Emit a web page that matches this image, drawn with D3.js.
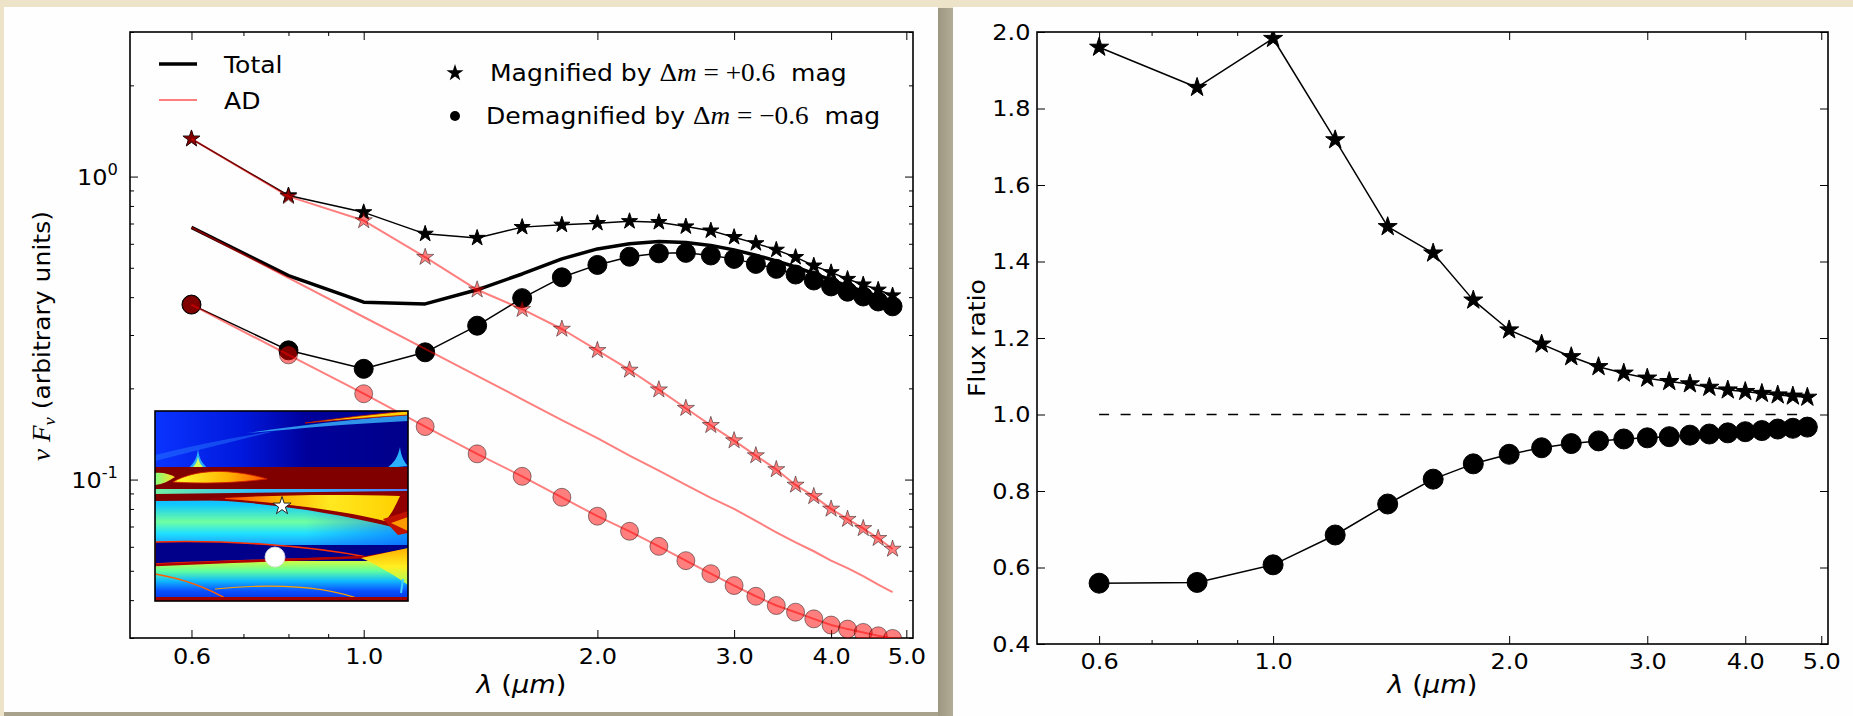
<!DOCTYPE html>
<html>
<head>
<meta charset="utf-8">
<script src="https://cdn.jsdelivr.net/npm/d3@7"></script>
<style>
  html, body { margin: 0; padding: 0; background: #ece2c6; }
  svg { display: block; }
  text { font-family: "DejaVu Sans", sans-serif; fill: #000; }
</style>
</head>
<body>
<svg id="chart" width="1853" height="716"></svg>
<script>
// Wavelengths (micron) where the spectra were sampled
const lambda = [0.6, 0.8, 1.0, 1.2, 1.4, 1.6, 1.8, 2.0, 2.2, 2.4, 2.6, 2.8, 3.0, 3.2, 3.4, 3.6, 3.8, 4.0, 4.2, 4.4, 4.6, 4.8];

// Left panel: nu F_nu (arbitrary units)
const totalFlux = [0.680, 0.471, 0.385, 0.380, 0.423, 0.477, 0.535, 0.577, 0.600, 0.610, 0.606, 0.592, 0.573, 0.550, 0.527, 0.503, 0.478, 0.456, 0.436, 0.418, 0.402, 0.387];
const adFlux = [0.680, 0.463, 0.344, 0.270, 0.220, 0.184, 0.157, 0.137, 0.120, 0.107, 0.096, 0.087, 0.080, 0.073, 0.067, 0.062, 0.058, 0.054, 0.051, 0.048, 0.045, 0.0425];
const totalMagnified = [1.332, 0.866, 0.762, 0.647, 0.627, 0.681, 0.693, 0.702, 0.712, 0.707, 0.684, 0.663, 0.631, 0.602, 0.573, 0.542, 0.508, 0.483, 0.459, 0.440, 0.423, 0.405];
const totalDemagnified = [0.378, 0.267, 0.232, 0.263, 0.322, 0.397, 0.465, 0.511, 0.544, 0.558, 0.560, 0.549, 0.535, 0.515, 0.496, 0.475, 0.454, 0.434, 0.417, 0.402, 0.387, 0.373];
const adMagnified = [1.332, 0.860, 0.716, 0.542, 0.423, 0.365, 0.314, 0.267, 0.230, 0.198, 0.172, 0.151, 0.1345, 0.120, 0.108, 0.096, 0.088, 0.080, 0.074, 0.069, 0.064, 0.059];
const adDemagnified = [0.378, 0.258, 0.192, 0.1496, 0.1216, 0.1025, 0.0874, 0.0757, 0.0675, 0.0602, 0.0540, 0.0489, 0.0447, 0.0412, 0.0384, 0.0365, 0.0347, 0.0331, 0.0321, 0.0313, 0.0305, 0.0299];

// Right panel: flux ratios
const ratioMagnified = [1.960, 1.855, 1.983, 1.718, 1.491, 1.422, 1.299, 1.221, 1.184, 1.151, 1.125, 1.108, 1.095, 1.086, 1.080, 1.071, 1.064, 1.060, 1.055, 1.051, 1.048, 1.045];
const ratioDemagnified = [0.559, 0.561, 0.607, 0.685, 0.766, 0.831, 0.871, 0.896, 0.913, 0.924, 0.931, 0.936, 0.939, 0.942, 0.946, 0.949, 0.952, 0.955, 0.958, 0.962, 0.964, 0.967];
const unityLevel = 1.0;

// Ticks
const xMajorTicks = [0.6, 1, 2, 3, 4, 5];
const xMinorTicks = [0.7, 0.8, 0.9];
const fluxMajorTicks = [0.1, 1];
const fluxMinorTicks = [0.03, 0.04, 0.05, 0.06, 0.07, 0.08, 0.09, 0.2, 0.3, 0.4, 0.5, 0.6, 0.7, 0.8, 0.9, 2, 3];
const ratioTicks = [0.4, 0.6, 0.8, 1.0, 1.2, 1.4, 1.6, 1.8, 2.0];

const svg = d3.select("#chart");
const defs = svg.append("defs");

const RED = "rgba(255,0,0,0.5)";
const RED_EDGE = "rgba(0,0,0,0.45)";
const SERIF = "'Liberation Serif', 'DejaVu Serif', serif";
const STRETCH = 1.09;   // the reference text is a little wider than it is tall

// star of outer radius r, d3 symbolStar uses r = sqrt(size * ka)
const starPath = r => d3.symbol().type(d3.symbolStar).size(r * r / 0.8908130915292852)();

// text placed at (x, y), widened a bit along its own direction
function label(x, y, size, rotate = 0) {
    return svg.append("text")
        .attr("transform", `translate(${x},${y}) rotate(${rotate}) scale(${STRETCH},1)`)
        .attr("font-size", size).attr("xml:space", "preserve");
}

// ---------- page background and cards ----------
const shade = defs.append("linearGradient").attr("id", "gap").attr("x1", 0).attr("x2", 1);
shade.append("stop").attr("offset", 0).attr("stop-color", "#9a947f");
shade.append("stop").attr("offset", 1).attr("stop-color", "#b4ad98");
svg.append("rect").attr("width", 1853).attr("height", 716).attr("fill", "#ede3c8");
svg.append("rect").attr("x", 936).attr("y", 8).attr("width", 18).attr("height", 708).attr("fill", "url(#gap)");
svg.append("rect").attr("x", 4).attr("y", 710).attr("width", 934).attr("height", 6).attr("fill", "#a8a18c");
svg.append("rect").attr("x", 4).attr("y", 7).attr("width", 934).attr("height", 705).attr("fill", "#fefefe");
svg.append("rect").attr("x", 953).attr("y", 7).attr("width", 900).attr("height", 709).attr("fill", "#fefefe");

// ---------- scales ----------
const left = { x0: 130, x1: 913, y0: 32, y1: 638 };
const right = { x0: 1037, x1: 1828, y0: 32, y1: 644 };

const xL = d3.scaleLog().domain([0.5, 5.1]).range([left.x0, left.x1]);
const yL = d3.scaleLog().domain([0.03, 3]).range([left.y1, left.y0]);
const xR = d3.scaleLog().domain([0.5, 5.1]).range([right.x0, right.x1]);
const yR = d3.scaleLinear().domain([0.4, 2.0]).range([right.y1, right.y0]);

function clipFor(id, box) {
    defs.append("clipPath").attr("id", id).append("rect")
        .attr("x", box.x0).attr("y", box.y0)
        .attr("width", box.x1 - box.x0).attr("height", box.y1 - box.y0);
    return `url(#${id})`;
}

// Inward pointing ticks on all four sides
function drawTicks(box, x, y, xMinor, yMajor, yMinor, labelX, labelY) {
    const g = svg.append("g");
    const styleAxis = a => {
        a.select(".domain").remove();
        a.selectAll("line").attr("stroke", "#000").attr("stroke-width", 1);
        a.attr("font-family", null).attr("font-size", null);
    };
    const fmt = d3.format(".1f");

    g.append("g").attr("transform", `translate(0,${box.y1})`)
        .call(d3.axisBottom(x).tickValues(xMajorTicks).tickSize(-8).tickPadding(labelX).tickFormat(fmt))
        .call(styleAxis);
    g.append("g").attr("transform", `translate(0,${box.y1})`)
        .call(d3.axisBottom(x).tickValues(xMinor).tickSize(-4).tickFormat(""))
        .call(styleAxis);
    g.append("g").attr("transform", `translate(0,${box.y0})`)
        .call(d3.axisTop(x).tickValues(xMajorTicks).tickSize(-8).tickFormat(""))
        .call(styleAxis);
    g.append("g").attr("transform", `translate(0,${box.y0})`)
        .call(d3.axisTop(x).tickValues(xMinor).tickSize(-4).tickFormat(""))
        .call(styleAxis);

    g.append("g").attr("transform", `translate(${box.x0},0)`)
        .call(d3.axisLeft(y).tickValues(yMajor).tickSize(-8).tickPadding(labelY).tickFormat(labelY ? fmt : ""))
        .call(styleAxis);
    g.append("g").attr("transform", `translate(${box.x1},0)`)
        .call(d3.axisRight(y).tickValues(yMajor).tickSize(-8).tickFormat(""))
        .call(styleAxis);
    if (yMinor.length) {
        g.append("g").attr("transform", `translate(${box.x0},0)`)
            .call(d3.axisLeft(y).tickValues(yMinor).tickSize(-4).tickFormat(""))
            .call(styleAxis);
        g.append("g").attr("transform", `translate(${box.x1},0)`)
            .call(d3.axisRight(y).tickValues(yMinor).tickSize(-4).tickFormat(""))
            .call(styleAxis);
    }
    g.selectAll("text").attr("font-size", 22).attr("fill", "#000")
        .attr("transform", `scale(${STRETCH},1)`);

    svg.append("rect").attr("x", box.x0).attr("y", box.y0)
        .attr("width", box.x1 - box.x0).attr("height", box.y1 - box.y0)
        .attr("fill", "none").attr("stroke", "#000").attr("stroke-width", 1.6);
    return g;
}

// ---------- inset magnification map (picture) ----------
function gradient(id, stops, vertical) {
    const lg = defs.append("linearGradient").attr("id", id)
        .attr("x1", 0).attr("y1", 0).attr("x2", vertical ? 0 : 1).attr("y2", vertical ? 1 : 0);
    stops.forEach(([o, c]) => lg.append("stop").attr("offset", o).attr("stop-color", c));
    return `url(#${id})`;
}

function drawInset() {
    const W = 253, H = 190;
    defs.append("clipPath").attr("id", "insetClip").append("rect").attr("width", W).attr("height", H);
    const g = svg.append("g").attr("transform", "translate(155,411)");
    const c = g.append("g").attr("clip-path", "url(#insetClip)");

    c.append("rect").attr("width", W).attr("height", H).attr("fill", "#000088");
    c.append("rect").attr("width", W).attr("height", 58)
        .attr("fill", gradient("gTop", [[0, "#0a34ff"], [0.35, "#0018dc"], [0.6, "#00009a"], [1, "#00008a"]]));
    // soft glow streak and yellow caustic at the top
    c.append("path").attr("d", "M0,44 C40,34 80,26 120,20 C80,30 40,40 0,50Z").attr("fill", "#2a80ff").attr("opacity", 0.45);
    c.append("path").attr("d", "M92,22 C140,15 190,9 253,4 L253,10 C190,13 140,18 92,22Z").attr("fill", "#3ab8ff").attr("opacity", 0.8);
    c.append("path").attr("d", "M150,12 C185,7 220,3 253,0 L253,4 C220,6 185,9 150,12Z").attr("fill", "#ffd000").attr("stroke", "#c01000").attr("stroke-width", 0.8);
    // cusps
    c.append("path").attr("d", "M43,38 C44,48 48,54 54,58 L32,58 C38,54 42,48 43,38Z").attr("fill", "#2ab0ff");
    c.append("path").attr("d", "M43,46 C44,51 46,54 48,56 L38,56 C40,54 42,51 43,46Z").attr("fill", "#d0ff60");
    c.append("path").attr("d", "M245,36 C246,46 250,52 253,55 L232,57 C239,52 243,46 245,36Z").attr("fill", "#2ab0ff");

    // region below the red bands
    c.append("rect").attr("y", 76).attr("width", W).attr("height", 58)
        .attr("fill", gradient("gMid", [[0, "#2a9cff"], [0.3, "#10c8ff"], [0.6, "#70ffa0"], [0.8, "#20e0ff"], [1, "#1aa0ff"]], true));
    c.append("rect").attr("x", 150).attr("y", 96).attr("width", 103).attr("height", 38)
        .attr("fill", gradient("gMidR", [[0, "rgba(0,80,255,0)"], [1, "rgba(0,80,255,0.55)"]]));
    c.append("rect").attr("y", 150).attr("width", W).attr("height", 40)
        .attr("fill", gradient("gLow", [[0, "#d0ff40"], [0.25, "#60ffa0"], [0.5, "#10b8ff"], [0.75, "#0a50ff"], [1, "#0030e0"]], true));

    // dark red main band with yellow lens
    c.append("rect").attr("y", 56).attr("width", W).attr("height", 22).attr("fill", "#800000");
    c.append("path").attr("d", "M0,62 C8,61 14,63 20,66 C14,70 8,73 0,74Z").attr("fill", gradient("gLeft", [[0, "#80ff80"], [1, "#ffe020"]]));
    c.append("path").attr("d", "M18,71 C40,58 75,57 112,68 C80,72 50,73 18,71Z")
        .attr("fill", gradient("gLens", [[0, "#ffff30"], [0.6, "#ffb000"], [1, "#ff5000"]])).attr("stroke", "#d02000").attr("stroke-width", 0.8);
    c.append("rect").attr("y", 78).attr("width", W).attr("height", 6).attr("fill", gradient("gThin", [[0, "#70f0a0"], [0.4, "#30c0ff"], [1, "#5080ff"]]));
    // narrow dark band and widening yellow wedge
    c.append("path").attr("d", "M0,83 L253,80 L253,88 L0,90Z").attr("fill", "#800000");
    c.append("path").attr("d", "M55,87 C110,83 180,81 253,82 L253,120 C200,106 130,93 55,89Z").attr("fill", "#900000");
    c.append("path").attr("d", "M70,87 C120,84 180,83 245,85 C240,96 236,104 230,110 C190,100 130,92 70,88Z")
        .attr("fill", gradient("gWedge", [[0, "#ff4000"], [0.3, "#ffb000"], [0.6, "#ffe820"], [1, "#ffd000"]]));
    c.append("path").attr("d", "M228,108 L253,100 L253,122 L243,124Z").attr("fill", "#c01000");
    c.append("path").attr("d", "M236,112 L253,106 L253,120Z").attr("fill", "#ff9a00");

    // navy lens with red edges
    c.append("path").attr("d", "M0,131 C70,129 150,134 212,146 C150,148 70,150 0,153Z")
        .attr("fill", "#00008a").attr("stroke", "#ff3000").attr("stroke-width", 1.6);
    c.append("path").attr("d", "M0,154 C70,151 150,148 212,146 L253,139").attr("fill", "none").attr("stroke", "#b00000").attr("stroke-width", 2.5);
    c.append("path").attr("d", "M206,147 L253,137 L253,174 C240,165 225,155 206,147Z")
        .attr("fill", gradient("gRight", [[0, "#ffb000"], [0.5, "#ffee20"], [1, "#a0ff60"]], true));
    // faint caustic lines at the bottom
    c.append("path").attr("d", "M0,163 C30,168 55,178 75,190").attr("fill", "none").attr("stroke", "#ff6000").attr("stroke-width", 1.5);
    c.append("path").attr("d", "M60,178 C120,172 170,174 210,190").attr("fill", "none").attr("stroke", "#ffa000").attr("stroke-width", 1.2);
    c.append("path").attr("d", "M248,168 L246,182").attr("fill", "none").attr("stroke", "#40d0ff").attr("stroke-width", 2);
    c.append("rect").attr("y", 186).attr("width", W).attr("height", 4).attr("fill", "#a00000");

    // image positions
    g.append("path").attr("d", starPath(9.5)).attr("transform", "translate(127,95)")
        .attr("fill", "#fff").attr("stroke", "#222").attr("stroke-width", 1);
    g.append("circle").attr("cx", 120).attr("cy", 146).attr("r", 10).attr("fill", "#fff").attr("stroke", "#ddd").attr("stroke-width", 0.8);

    g.append("rect").attr("width", W).attr("height", H).attr("fill", "none").attr("stroke", "#000").attr("stroke-width", 1.6);
}

// ---------- left panel ----------
drawTicks(left, xL, yL, xMinorTicks, fluxMajorTicks, fluxMinorTicks, 10, 0);

// 10^0 and 10^-1 labels
fluxMajorTicks.forEach(v => {
    const t = svg.append("text").attr("transform", `translate(${left.x0 - 12},${yL(v) + 8}) scale(${STRETCH},1)`)
        .attr("text-anchor", "end").attr("font-size", 22);
    t.append("tspan").text("10");
    t.append("tspan").attr("dy", -10).attr("font-size", 15).text(Math.round(Math.log10(v)));
});

const plotL = svg.append("g").attr("clip-path", clipFor("clipL", left));
const lineL = d3.line().x(d => xL(d[0])).y(d => yL(d[1]));

function series(g, line, values, stroke, width) {
    g.append("path").datum(d3.zip(lambda, values)).attr("d", line)
        .attr("fill", "none").attr("stroke", stroke).attr("stroke-width", width)
        .attr("stroke-linejoin", "round");
}
function stars(g, x, y, values, r, fill, edge) {
    g.selectAll(null).data(d3.zip(lambda, values)).enter().append("path")
        .attr("d", starPath(r)).attr("transform", d => `translate(${x(d[0])},${y(d[1])})`)
        .attr("fill", fill).attr("stroke", edge).attr("stroke-width", 1);
}
function dots(g, x, y, values, r, fill, edge) {
    g.selectAll(null).data(d3.zip(lambda, values)).enter().append("circle")
        .attr("cx", d => x(d[0])).attr("cy", d => y(d[1])).attr("r", r)
        .attr("fill", fill).attr("stroke", edge).attr("stroke-width", 1);
}

// black: total spectrum
series(plotL, lineL, totalFlux, "#000", 3.5);
series(plotL, lineL, totalMagnified, "#000", 1.5);
series(plotL, lineL, totalDemagnified, "#000", 1.5);
stars(plotL, xL, yL, totalMagnified, 8.5, "#000", "#000");
dots(plotL, xL, yL, totalDemagnified, 9.5, "#000", "#000");

// red: accretion disc only
series(plotL, lineL, adFlux, RED, 2);
series(plotL, lineL, adMagnified, RED, 2);
series(plotL, lineL, adDemagnified, RED, 2);
stars(plotL, xL, yL, adMagnified, 9, RED, RED_EDGE);
dots(plotL, xL, yL, adDemagnified, 9, RED, RED_EDGE);

drawInset();

// legends
svg.append("line").attr("x1", 159).attr("x2", 197).attr("y1", 64).attr("y2", 64).attr("stroke", "#000").attr("stroke-width", 3.5);
label(224, 73, 23).text("Total");
svg.append("line").attr("x1", 159).attr("x2", 197).attr("y1", 100).attr("y2", 100).attr("stroke", RED).attr("stroke-width", 2);
label(224, 109, 23).text("AD");

svg.append("path").attr("d", starPath(9)).attr("transform", "translate(455,73)").attr("fill", "#000");
svg.append("circle").attr("cx", 455).attr("cy", 116).attr("r", 5).attr("fill", "#000");

function deltaLegend(x, y, word, sign) {
    const t = label(x, y, 23);
    t.append("tspan").text(word + " by ");
    t.append("tspan").attr("font-family", SERIF).attr("font-size", 25).text("Δ");
    t.append("tspan").attr("font-family", SERIF).attr("font-size", 25).attr("font-style", "italic").text("m");
    t.append("tspan").attr("font-family", SERIF).attr("font-size", 25).text(" = " + sign + "0.6");
    t.append("tspan").text("  mag");
}
deltaLegend(490, 81, "Magnified", "+");
deltaLegend(486, 124, "Demagnified", "−");

// axis labels
function lambdaLabel(cx, y) {
    const t = label(cx, y, 25).attr("text-anchor", "middle").attr("font-family", SERIF);
    t.append("tspan").attr("font-style", "italic").text("λ");
    t.append("tspan").text(" (");
    t.append("tspan").attr("font-style", "italic").text("μm");
    t.append("tspan").text(")");
}
lambdaLabel((left.x0 + left.x1) / 2, 693);

const yLabL = label(50, 336, 23, -90).attr("text-anchor", "middle");
yLabL.append("tspan").attr("font-family", SERIF).attr("font-style", "italic").attr("font-size", 25).text("ν F");
yLabL.append("tspan").attr("font-family", SERIF).attr("font-style", "italic").attr("font-size", 17).attr("dy", 5).text("ν");
yLabL.append("tspan").attr("dy", -5).text(" (arbitrary units)");

// ---------- right panel ----------
drawTicks(right, xR, yR, xMinorTicks, ratioTicks, [], 9, 6);

const plotR = svg.append("g").attr("clip-path", clipFor("clipR", right));
const lineR = d3.line().x(d => xR(d[0])).y(d => yR(d[1]));

plotR.append("line")
    .attr("x1", xR(d3.min(lambda))).attr("x2", xR(d3.max(lambda)))
    .attr("y1", yR(unityLevel)).attr("y2", yR(unityLevel))
    .attr("stroke", "#000").attr("stroke-width", 1.5).attr("stroke-dasharray", "10,11.5");

series(plotR, lineR, ratioMagnified, "#000", 1.5);
series(plotR, lineR, ratioDemagnified, "#000", 1.5);
stars(plotR, xR, yR, ratioMagnified, 10, "#000", "#000");
dots(plotR, xR, yR, ratioDemagnified, 10, "#000", "#000");

lambdaLabel((right.x0 + right.x1) / 2, 693);
label(985, 338, 23, -90).attr("text-anchor", "middle").text("Flux ratio");
</script>
</body>
</html>
